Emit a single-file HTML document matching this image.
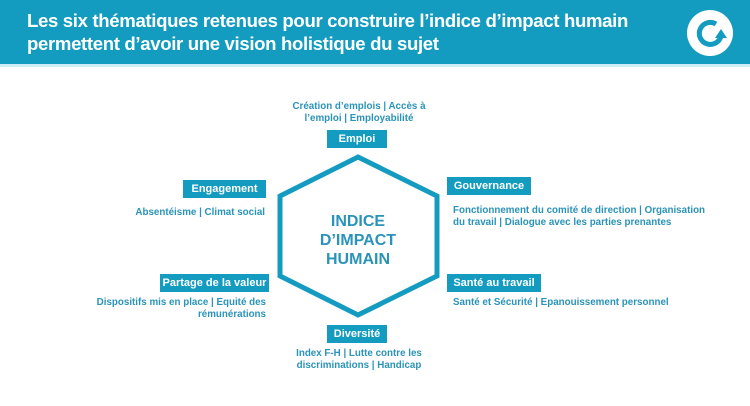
<!DOCTYPE html>
<html><head><meta charset="utf-8"><style>
body{margin:0;width:750px;height:406px;background:#fff;position:relative;overflow:hidden;font-family:"Liberation Sans",Arial,sans-serif}
.hdr{position:absolute;left:0;top:0;width:750px;height:64px;background:#149cc0}
.line{position:absolute;left:0;top:64px;width:750px;height:3px;background:#cdeef6}
.t{position:absolute;left:27px;top:9px;color:#fff;font-weight:bold;font-size:18.6px;line-height:23px;letter-spacing:-0.35px}
.b{position:absolute;background:#149cc0;color:#fff;font-weight:bold;font-size:11px;height:18px;line-height:18px;text-align:center}
.x{position:absolute;color:#2a93b9;font-size:9.8px;line-height:12px;font-weight:bold}
</style></head><body>
<div class="hdr"></div><div class="line"></div>
<div class="t">Les six thématiques retenues pour construire l’indice d’impact humain<br>permettent d’avoir une vision holistique du sujet</div>
<svg style="position:absolute;left:0;top:0" width="750" height="406">
<circle cx="710" cy="33" r="23" fill="#fff"/>
<path d="M716 24 A11 11 0 1 0 721 36" fill="none" stroke="#149cc0" stroke-width="5"/>
<polygon points="715,38 727,38 721,29" fill="#149cc0"/>
<polygon points="358,157 437,196 437,276 358,315 280,276 280,196" fill="none" stroke="#149cc0" stroke-width="5" stroke-linejoin="miter"/>
<text x="358" y="226" text-anchor="middle" fill="#2a93b9" font-size="16" font-weight="bold" font-family="Liberation Sans">INDICE</text>
<text x="358" y="245" text-anchor="middle" fill="#2a93b9" font-size="16" font-weight="bold" font-family="Liberation Sans">D’IMPACT</text>
<text x="358" y="264" text-anchor="middle" fill="#2a93b9" font-size="16" font-weight="bold" font-family="Liberation Sans">HUMAIN</text>
</svg>
<div class="x" style="left:278px;top:101px;width:162px;text-align:center">Création d’emplois | Accès à<br>l’emploi | Employabilité</div>
<div class="b" style="left:327px;top:130px;width:60px">Emploi</div>
<div class="b" style="left:183px;top:180px;width:83px">Engagement</div>
<div class="x" style="left:100px;top:207px;width:165px;text-align:right">Absentéisme | Climat social</div>
<div class="b" style="left:160px;top:274px;width:109px">Partage de la valeur</div>
<div class="x" style="left:80px;top:297px;width:186px;text-align:right">Dispositifs mis en place | Equité des<br>rémunérations</div>
<div class="b" style="left:447px;top:177px;width:84px">Gouvernance</div>
<div class="x" style="left:453px;top:205px;width:290px">Fonctionnement du comité de direction | Organisation<br>du travail | Dialogue avec les parties prenantes</div>
<div class="b" style="left:447px;top:274px;width:94px">Santé au travail</div>
<div class="x" style="left:453px;top:297px;width:290px">Santé et Sécurité | Epanouissement personnel</div>
<div class="b" style="left:327px;top:325px;width:60px">Diversité</div>
<div class="x" style="left:278px;top:348px;width:162px;text-align:center">Index F-H | Lutte contre les<br>discriminations | Handicap</div>
</body></html>
